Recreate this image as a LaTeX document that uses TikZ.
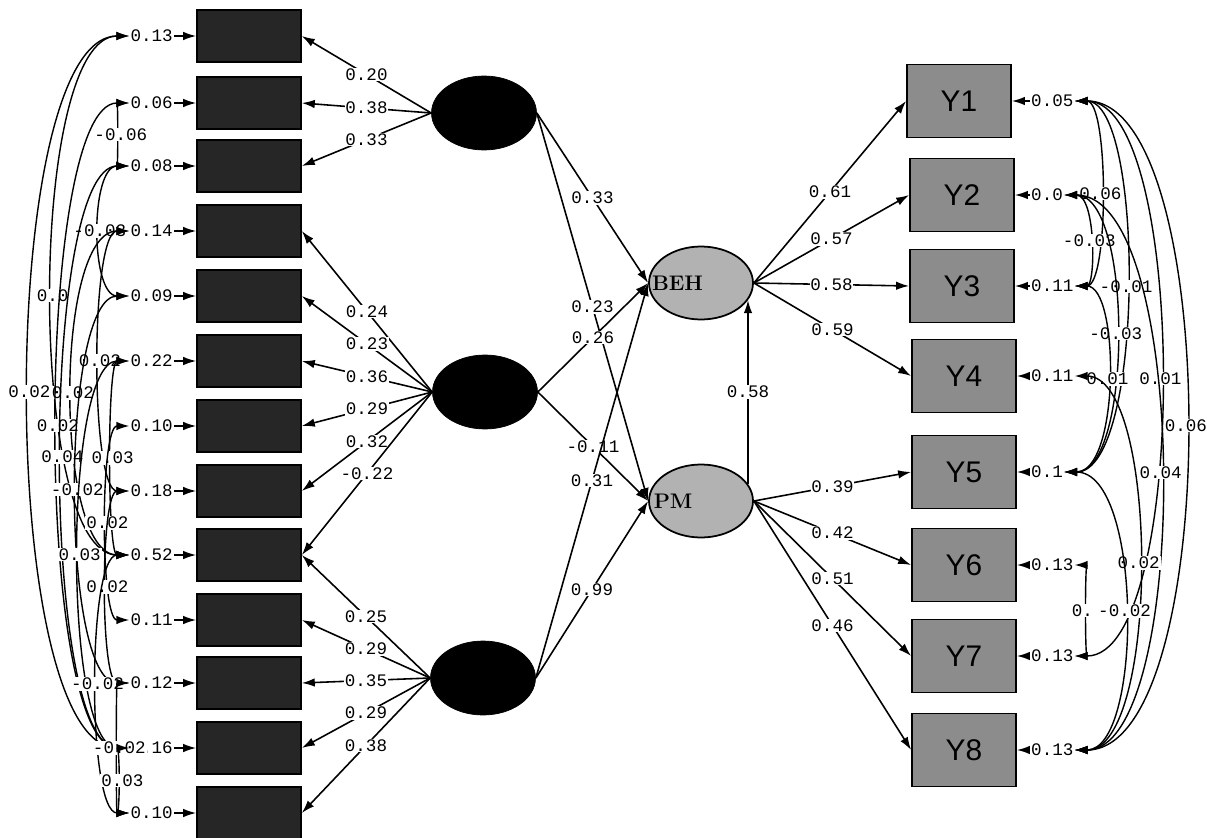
\documentclass[tikz,border=0pt]{standalone}
\usepackage{fontspec}
\setmonofont{Liberation Mono}
\setsansfont{Liberation Sans}
\usetikzlibrary{arrows.meta,shapes.geometric}

\tikzset{
  xbox/.style={draw,line width=0.9pt,fill=black!85,minimum width=2.08cm,minimum height=1.04cm,inner sep=0pt},
  ybox/.style={draw,line width=1pt,fill=black!45,minimum width=2.08cm,minimum height=1.46cm,inner sep=0pt,font=\sffamily\fontsize{17}{19}\selectfont},
  ksi/.style={ellipse,draw,fill=black,minimum width=2.1cm,minimum height=1.48cm},
  eta/.style={ellipse,draw,line width=1pt,fill=black!30,minimum width=2.08cm,minimum height=1.46cm},
  etatxt/.style={anchor=west,font=\bfseries\fontsize{12}{14}\selectfont,inner sep=0pt},
  num/.style={font=\ttfamily,inner sep=0.5pt},
  lab/.style={num,fill=white},
  ld/.style={-{Latex[length=2.6mm,width=1.7mm]},line width=0.9pt},
  cov/.style={{Latex[length=2.6mm,width=1.7mm]}-{Latex[length=2.6mm,width=1.7mm]},line width=0.8pt},
}

\begin{document}
\begin{tikzpicture}[x=0.02cm,y=-0.02cm]
\useasboundingbox (0,0) rectangle (1207,838);
\foreach \i/\y/\v in {1/36/0.13,2/103/0.06,3/166/0.08,4/231/0.14,5/296/0.09,6/361/0.22,7/426/0.10,
                      8/491/0.18,9/555/0.52,10/620/0.11,11/683/0.12,12/748/0.16,13/813/0.10} {
  \node[xbox] (xb\i) at (249,\y) {};
  \node[num,anchor=east] (e\i) at (174,\y) {\v};
  \draw[ld] (e\i) -- (xb\i);
}
\foreach \i/\x/\y/\v in {1/959/101/0.05,2/962/195/0.0,3/962/286/0.11,4/964/376/0.11,
                         5/964/472/0.1,6/964/565/0.13,7/964/656/0.13,8/964/750/0.13} {
  \node[ybox] (yb\i) at (\x,\y) {Y\i};
  \node[num,anchor=west] (r\i) at (1030,\y) {\v};
  \draw[ld] (r\i) -- (yb\i);
}
\node[ksi] (ksi1) at (484,113) {};
\node[ksi] (ksi2) at (485,392) {};
\node[ksi] (ksi3) at (483,678) {};
\node[eta] (beh) at (701,283) {};
\node[eta] (pm) at (701,501) {};
\node[etatxt] (behtxt) at ([xshift=2pt]beh.west) {BEH};
\node[etatxt] (pmtxt) at ([xshift=3pt]pm.west) {PM};

\foreach \k/\i/\v in {1/1/0.20,1/2/0.38,1/3/0.33,2/4/0.24,2/5/0.23,2/6/0.36,2/7/0.29,2/8/0.32,
                      2/9/-0.22,3/9/0.25,3/10/0.29,3/11/0.35,3/12/0.29,3/13/0.38}
  \draw[ld] (ksi\k.west) -- node[lab] (lx\k-\i) {\v} (xb\i.east);
\foreach \k/\t/\v in {1/beh/0.33,1/pm/0.23,2/beh/0.26,2/pm/-0.11,3/beh/0.31,3/pm/0.99}
  \draw[ld] (ksi\k.east) -- node[lab] (g\k\t) {\v} (\t.west);
\foreach \i/\v in {1/0.61,2/0.57,3/0.58,4/0.59}
  \draw[ld] (beh.east) -- node[lab] (ly\i) {\v} (yb\i.west);
\foreach \i/\v in {5/0.39,6/0.42,7/0.51,8/0.46}
  \draw[ld] (pm.east) -- node[lab] (ly\i) {\v} (yb\i.west);
\draw[ld] (pm.20) -- node[lab] (bpm) {0.58} (beh.340);

\foreach \a/\b/\cx/\v in {2/3/118/-0.06,3/5/90/-0.03,1/9/27/0.0,4/8/90/0.02,1/12/-4/0.02,4/9/54/0.02,
                          2/12/34/0.02,3/12/40/0.04,6/9/107/0.03,5/11/60/-0.02,7/10/100/0.02,
                          6/12/63/0.03,8/11/100/0.02,9/13/87/-0.02,11/13/116/-0.02,12/13/120/0.03}
  \draw[cov] (e\a.west) .. controls (\cx,0 |- e\a.west) and (\cx,0 |- e\b.west) .. (e\b.west)
    node[lab,midway] (cl\a-\b) {\v};
\foreach \a/\b/\cx/\v in {1/3/1109/0.06,2/3/1096/-0.03,1/5/1145/-0.01,2/5/1133/-0.03,3/5/1120/0.01,
                          1/7/1189/0.01,1/8/1223/0.06,2/8/1191/0.04,4/8/1160/0.02,6/7/1085/0.,5/8/1143/-0.02}
  \draw[cov] (r\a.east) .. controls (\cx,0 |- r\a.east) and (\cx,0 |- r\b.east) .. (r\b.east)
    node[lab,midway] (cr\a-\b) {\v};
\end{tikzpicture}
\end{document}
